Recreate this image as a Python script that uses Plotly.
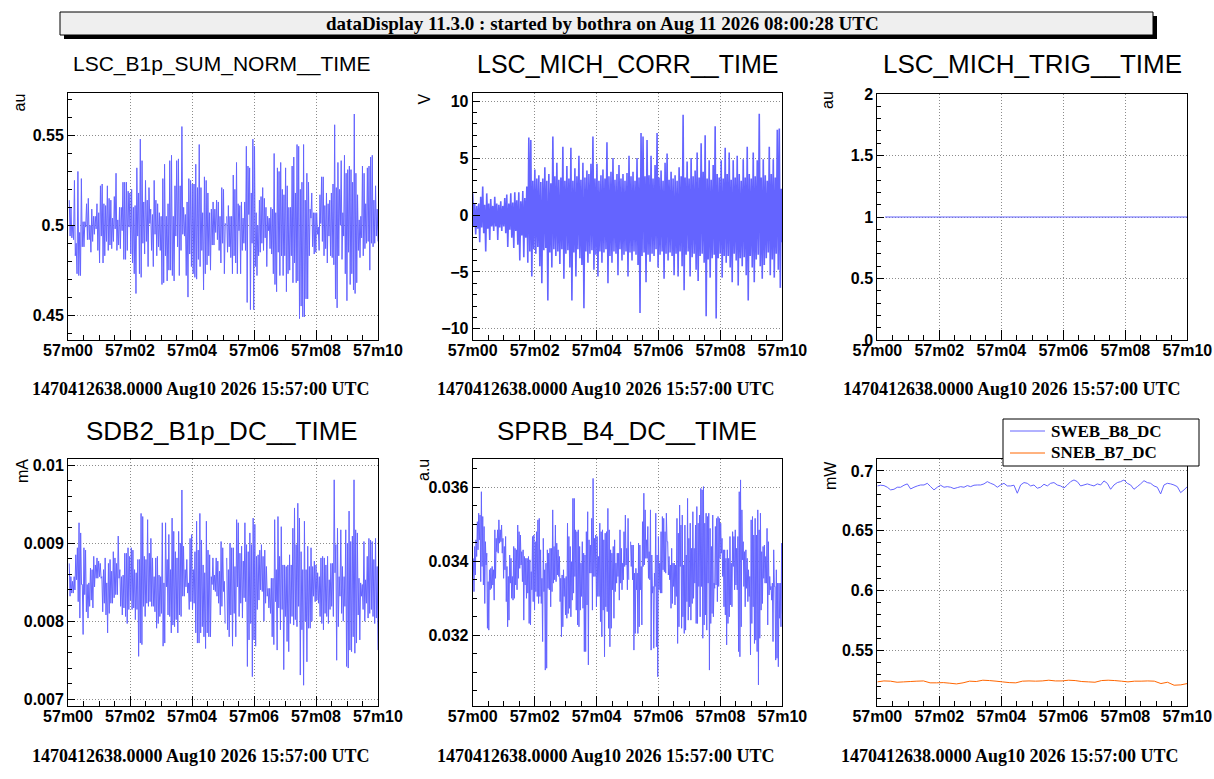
import numpy as np
import pandas as pd
import plotly.graph_objects as go

# start of the 10 s window shown in every panel
T0 = pd.Timestamp('2026-08-10 15:57:00')

# LSC_B1p_SUM_NORM, read as successive highs/lows (first half 0.04-5.10 s, second 5.12-10 s)
b1p_sum_a = [
    0.514, 0.494, 0.510, 0.493, 0.500, 0.492, 0.525, 0.483, 0.490, 0.473,
    0.530, 0.472, 0.496, 0.472, 0.526, 0.488, 0.502, 0.488, 0.502, 0.499,
    0.512, 0.492, 0.515, 0.492, 0.500, 0.485, 0.509, 0.491, 0.505, 0.495,
    0.505, 0.498, 0.512, 0.486, 0.507, 0.479, 0.522, 0.494, 0.523, 0.479,
    0.512, 0.483, 0.511, 0.491, 0.522, 0.486, 0.515, 0.489, 0.514, 0.487,
    0.504, 0.491, 0.516, 0.498, 0.529, 0.486, 0.503, 0.489, 0.510, 0.487,
    0.510, 0.497, 0.524, 0.481, 0.524, 0.481, 0.524, 0.486, 0.519, 0.499,
    0.518, 0.484, 0.520, 0.479, 0.510, 0.473, 0.511, 0.462, 0.532, 0.494,
    0.518, 0.473, 0.548, 0.471, 0.536, 0.490, 0.513, 0.484, 0.525, 0.491,
    0.514, 0.477, 0.521, 0.501, 0.509, 0.486, 0.506, 0.477, 0.525, 0.495,
    0.514, 0.483, 0.512, 0.488, 0.507, 0.486, 0.505, 0.467, 0.526, 0.468,
    0.534, 0.483, 0.505, 0.469, 0.512, 0.475, 0.536, 0.475, 0.539, 0.472,
    0.505, 0.469, 0.522, 0.494, 0.536, 0.488, 0.537, 0.472, 0.522, 0.486,
    0.555, 0.495, 0.510, 0.494, 0.506, 0.472, 0.513, 0.460, 0.526, 0.484,
    0.525, 0.477, 0.523, 0.473, 0.523, 0.471, 0.534, 0.470, 0.521, 0.481,
    0.545, 0.477, 0.521, 0.486, 0.507, 0.464, 0.527, 0.473, 0.525, 0.478,
    0.518, 0.483, 0.507, 0.475, 0.509, 0.489, 0.513, 0.489, 0.509, 0.496,
    0.514, 0.492, 0.513, 0.486, 0.505, 0.479, 0.521, 0.490, 0.520, 0.473,
    0.501, 0.500,
]
b1p_sum_b = [
    0.505, 0.485, 0.511, 0.488, 0.505, 0.482, 0.505, 0.473, 0.528, 0.483,
    0.520, 0.479, 0.535, 0.473, 0.512, 0.497, 0.511, 0.473, 0.513, 0.486,
    0.504, 0.490, 0.513, 0.486, 0.544, 0.457, 0.533, 0.506, 0.532, 0.453,
    0.518, 0.490, 0.548, 0.453, 0.544, 0.477, 0.507, 0.472, 0.500, 0.483,
    0.514, 0.485, 0.516, 0.490, 0.521, 0.486, 0.515, 0.493, 0.510, 0.477,
    0.505, 0.497, 0.504, 0.487, 0.510, 0.484, 0.509, 0.473, 0.540, 0.467,
    0.507, 0.463, 0.532, 0.485, 0.530, 0.472, 0.535, 0.483, 0.520, 0.472,
    0.517, 0.483, 0.532, 0.463, 0.522, 0.473, 0.510, 0.475, 0.510, 0.483,
    0.533, 0.468, 0.538, 0.479, 0.518, 0.468, 0.545, 0.469, 0.544, 0.448,
    0.520, 0.455, 0.524, 0.449, 0.545, 0.449, 0.514, 0.459, 0.529, 0.459,
    0.524, 0.483, 0.509, 0.504, 0.518, 0.488, 0.507, 0.484, 0.507, 0.485,
    0.507, 0.495, 0.499, 0.486, 0.517, 0.501, 0.527, 0.491, 0.527, 0.483,
    0.511, 0.487, 0.518, 0.479, 0.512, 0.494, 0.514, 0.483, 0.518, 0.482,
    0.523, 0.478, 0.556, 0.459, 0.521, 0.454, 0.535, 0.483, 0.520, 0.500,
    0.536, 0.481, 0.507, 0.494, 0.539, 0.473, 0.529, 0.458, 0.531, 0.485,
    0.533, 0.467, 0.531, 0.473, 0.524, 0.464, 0.562, 0.462, 0.529, 0.468,
    0.517, 0.486, 0.503, 0.482, 0.505, 0.493, 0.533, 0.483, 0.529, 0.487,
    0.512, 0.490, 0.532, 0.491, 0.533, 0.475, 0.538, 0.490, 0.539, 0.488,
    0.514, 0.490, 0.522, 0.494, 0.509, 0.491,
]

# LSC_MICH_CORR [V], highs/lows over 0-10 s
mich_corr = [
    1.9, -1.0, 1.0, -1.7, 0.8, -1.2, 1.0, -2.4, 1.6, -1.1, 2.5, -1.6, 0.9, -3.2, 1.9, -1.2,
    1.0, -2.2, 1.4, -1.0, 0.8, -1.4, 1.6, -1.0, 1.0, -2.2, 0.9, -1.1, 1.2, -1.4, 0.8, -1.0,
    1.5, -1.6, 1.8, -2.8, 1.0, -1.3, 1.9, -2.0, 1.1, -2.9, 2.0, -1.4, 1.3, -2.6, 2.0, -4.0,
    1.2, -1.8, 2.1, -3.7, 1.5, -2.0, 2.5, -4.2,
    6.8, -3.2, 6.6, -5.4, 3.0, -3.0, 4.0, -3.4, 3.2, -2.8, 3.5, -4.5, 2.9, -6.0, 3.2, -3.1,
    4.2, -2.9, 3.0, -7.5, 3.6, -3.3, 2.8, -4.6, 6.9, -3.0, 3.4, -3.6, 4.6, -3.2, 3.1, -4.3,
    3.3, -3.0, 6.0, -5.6, 3.0, -3.4, 4.3, -3.1, 3.2, -4.6, 5.9, -7.5, 3.0, -3.3, 4.1, -5.4,
    3.4, -3.0, 5.2, -3.8, 3.1, -4.4, 4.6, -8.2, 3.3, -3.2, 3.9, -4.2, 3.6, -3.4, 4.5, -3.1,
    6.9, -4.8, 3.2, -3.5, 4.5, -5.4, 3.0, -3.2, 3.5, -4.2, 4.0, -3.3, 3.2, -3.0, 6.4, -6.0,
    3.4, -3.6, 3.8, -4.2, 5.0, -3.2, 3.1, -3.4, 3.6, -5.3, 4.4, -3.0, 3.2, -4.0, 3.6, -3.5,
    3.0, -3.2, 3.7, -5.4, 5.2, -3.3, 3.4, -4.0, 3.8, -3.2, 3.0, -3.5, 5.0, -4.4, 3.3, -8.6,
    7.2, -3.6, 6.9, -3.3, 3.4, -5.9, 6.6, -3.5, 3.5, -4.1, 5.2, -3.4, 3.2, -3.6, 4.4, -3.0,
    7.2, -4.6, 3.3, -3.5, 3.9, -3.2, 3.0, -5.6, 4.6, -3.4, 5.4, -4.0, 3.1, -3.3, 3.8, -3.6,
    3.2, -5.3, 3.5, -3.4, 3.0, -5.4, 4.2, -3.2, 3.4, -4.5, 8.8, -6.6, 3.3, -3.5, 4.7, -3.2,
    3.2, -5.4, 5.0, -3.7, 3.4, -3.4, 3.9, -4.8, 5.5, -5.8, 3.3, -3.6, 6.3, -3.4, 3.8, -4.2,
    7.0, -8.9, 3.2, -3.9, 4.8, -5.5, 3.1, -3.8, 4.4, -3.5, 7.8, -9.1, 3.6, -3.8, 3.3, -3.4,
    4.8, -5.5, 3.2, -3.6, 5.9, -4.2, 3.6, -3.6, 5.5, -4.6, 3.1, -5.9, 4.8, -3.4, 3.3, -4.0,
    5.2, -6.2, 3.6, -3.8, 3.0, -4.5, 4.9, -3.7, 3.3, -5.3, 6.0, -7.5, 3.6, -3.6, 3.2, -4.6,
    5.5, -5.9, 3.4, -3.9, 4.8, -3.5, 8.9, -4.5, 3.3, -5.6, 4.9, -4.4, 3.5, -3.8, 3.0, -3.3,
    6.0, -5.3, 3.6, -3.9, 4.9, -5.5, 3.3, -3.4, 7.5, -4.8, 7.6, -6.4, 2.3, -2.4,
]

# LSC_MICH_TRIG [au], 0.25-10 s
mich_trig = [1.0, 1.0, 1.0, 1.0, 1.0, 1.0, 1.0, 1.0, 1.0, 1.0, 1.0]

# SDB2_B1p_DC [mA], highs/lows (first half 0.04-5.07 s, second 5.12-10 s)
sdb2_dc_a = [
    0.00874, 0.00832, 0.00857, 0.00836, 0.00851, 0.00836, 0.00857, 0.00840, 0.00885, 0.00853,
    0.00894, 0.00825, 0.00926, 0.00804, 0.00913, 0.00847, 0.00847, 0.00783, 0.00894, 0.00834,
    0.00891, 0.00812, 0.00847, 0.00804, 0.00849, 0.00819, 0.00868, 0.00827, 0.00866, 0.00817,
    0.00883, 0.00844, 0.00872, 0.00855, 0.00881, 0.00855, 0.00877, 0.00857, 0.00874, 0.00855,
    0.00857, 0.00812, 0.00866, 0.00823, 0.00881, 0.00808, 0.00849, 0.00785, 0.00874, 0.00810,
    0.00879, 0.00823, 0.00864, 0.00823, 0.00889, 0.00830, 0.00881, 0.00834, 0.00874, 0.00834,
    0.00909, 0.00855, 0.00866, 0.00819, 0.00857, 0.00808, 0.00859, 0.00817, 0.00887, 0.00806,
    0.00887, 0.00797, 0.00894, 0.00815, 0.00883, 0.00827, 0.00894, 0.00815, 0.00891, 0.00817,
    0.00866, 0.00802, 0.00862, 0.00815, 0.00879, 0.00755, 0.00879, 0.00772, 0.00938, 0.00770,
    0.00934, 0.00819, 0.00883, 0.00806, 0.00879, 0.00823, 0.00930, 0.00819, 0.00887, 0.00825,
    0.00906, 0.00819, 0.00881, 0.00819, 0.00857, 0.00812, 0.00881, 0.00791, 0.00883, 0.00797,
    0.00859, 0.00806, 0.00857, 0.00810, 0.00926, 0.00768, 0.00849, 0.00772, 0.00926, 0.00844,
    0.00879, 0.00808, 0.00911, 0.00806, 0.00866, 0.00785, 0.00932, 0.00795, 0.00915, 0.00793,
    0.00889, 0.00802, 0.00881, 0.00785, 0.00915, 0.00808, 0.00900, 0.00806, 0.00968, 0.00832,
    0.00896, 0.00832, 0.00866, 0.00844, 0.00879, 0.00836, 0.00849, 0.00815, 0.00906, 0.00825,
    0.00911, 0.00815, 0.00866, 0.00823, 0.00889, 0.00785, 0.00928, 0.00772, 0.00891, 0.00772,
    0.00938, 0.00785, 0.00904, 0.00793, 0.00872, 0.00780, 0.00862, 0.00765, 0.00928, 0.00785,
    0.00891, 0.00780, 0.00885, 0.00780, 0.00857, 0.00847, 0.00881, 0.00840, 0.00859, 0.00838,
    0.00881, 0.00832, 0.00877, 0.00823, 0.00864, 0.00808, 0.00902, 0.00819, 0.00894, 0.00838,
    0.00851, 0.00797,
]
sdb2_dc_b = [
    0.00881, 0.00789, 0.00866, 0.00780, 0.00900, 0.00808, 0.00894, 0.00768, 0.00894, 0.00810,
    0.00870, 0.00780, 0.00930, 0.00844, 0.00926, 0.00806, 0.00887, 0.00823, 0.00896, 0.00804,
    0.00877, 0.00830, 0.00926, 0.00825, 0.00898, 0.00742, 0.00889, 0.00776, 0.00913, 0.00797,
    0.00898, 0.00729, 0.00932, 0.00776, 0.00924, 0.00768, 0.00883, 0.00815, 0.00885, 0.00827,
    0.00891, 0.00840, 0.00898, 0.00838, 0.00883, 0.00800, 0.00891, 0.00823, 0.00870, 0.00832,
    0.00842, 0.00817, 0.00842, 0.00810, 0.00855, 0.00780, 0.00855, 0.00770, 0.00930, 0.00825,
    0.00866, 0.00763, 0.00934, 0.00817, 0.00883, 0.00789, 0.00921, 0.00815, 0.00872, 0.00738,
    0.00872, 0.00806, 0.00870, 0.00774, 0.00872, 0.00761, 0.00885, 0.00797, 0.00872, 0.00806,
    0.00919, 0.00795, 0.00945, 0.00802, 0.00898, 0.00793, 0.00951, 0.00819, 0.00932, 0.00731,
    0.00889, 0.00789, 0.00866, 0.00718, 0.00928, 0.00800, 0.00866, 0.00748, 0.00896, 0.00791,
    0.00870, 0.00791, 0.00894, 0.00800, 0.00870, 0.00832, 0.00877, 0.00825, 0.00872, 0.00827,
    0.00862, 0.00823, 0.00857, 0.00806, 0.00881, 0.00797, 0.00883, 0.00789, 0.00881, 0.00810,
    0.00872, 0.00806, 0.00883, 0.00797, 0.00853, 0.00815, 0.00874, 0.00819, 0.00874, 0.00806,
    0.00981, 0.00862, 0.00898, 0.00750, 0.00919, 0.00793, 0.00857, 0.00832, 0.00917, 0.00810,
    0.00870, 0.00800, 0.00857, 0.00819, 0.00917, 0.00742, 0.00900, 0.00740, 0.00941, 0.00763,
    0.00902, 0.00761, 0.00909, 0.00780, 0.00981, 0.00759, 0.00917, 0.00772, 0.00913, 0.00808,
    0.00855, 0.00776, 0.00849, 0.00832, 0.00847, 0.00815, 0.00902, 0.00800, 0.00853, 0.00823,
    0.00883, 0.00804, 0.00906, 0.00810, 0.00904, 0.00815, 0.00902, 0.00806, 0.00879, 0.00797,
    0.00906, 0.00804, 0.00870, 0.00763,
]

# SPRB_B4_DC [a.u], highs/lows (first half 0.02-5.04 s, second 5.10-10 s)
sprb_dc_a = [
    0.03408, 0.03318, 0.03440, 0.03363, 0.03458, 0.03413, 0.03507, 0.03431, 0.03530, 0.03458,
    0.03525, 0.03345, 0.03588, 0.03386, 0.03521, 0.03336, 0.03494, 0.03286, 0.03453, 0.03390,
    0.03422, 0.03219, 0.03345, 0.03214, 0.03377, 0.03323, 0.03381, 0.03327, 0.03386, 0.03336,
    0.03377, 0.03295, 0.03485, 0.03354, 0.03462, 0.03426, 0.03485, 0.03422, 0.03512, 0.03449,
    0.03485, 0.03453, 0.03498, 0.03422, 0.03462, 0.03354, 0.03440, 0.03377, 0.03467, 0.03291,
    0.03386, 0.03223, 0.03359, 0.03241, 0.03417, 0.03341, 0.03408, 0.03300, 0.03359, 0.03295,
    0.03440, 0.03300, 0.03435, 0.03336, 0.03431, 0.03323, 0.03498, 0.03354, 0.03480, 0.03381,
    0.03471, 0.03390, 0.03426, 0.03345, 0.03431, 0.03241, 0.03413, 0.03336, 0.03408, 0.03300,
    0.03408, 0.03314, 0.03413, 0.03232, 0.03404, 0.03228, 0.03372, 0.03323, 0.03467, 0.03291,
    0.03471, 0.03268, 0.03453, 0.03318, 0.03480, 0.03305, 0.03512, 0.03286, 0.03516, 0.03305,
    0.03431, 0.03286, 0.03354, 0.03183, 0.03462, 0.03318, 0.03377, 0.03106, 0.03395, 0.03111,
    0.03431, 0.03327, 0.03422, 0.03323, 0.03435, 0.03277, 0.03435, 0.03318, 0.03539, 0.03341,
    0.03440, 0.03350, 0.03498, 0.03345, 0.03449, 0.03363, 0.03431, 0.03359, 0.03413, 0.03291,
    0.03354, 0.03196, 0.03363, 0.03223, 0.03377, 0.03305, 0.03354, 0.03255, 0.03359, 0.03246,
    0.03503, 0.03259, 0.03467, 0.03273, 0.03440, 0.03250, 0.03399, 0.03295, 0.03570, 0.03314,
    0.03570, 0.03359, 0.03485, 0.03268, 0.03480, 0.03228, 0.03485, 0.03223, 0.03440, 0.03268,
    0.03395, 0.03305, 0.03453, 0.03273, 0.03422, 0.03156, 0.03417, 0.03156, 0.03480, 0.03282,
    0.03534, 0.03120, 0.03458, 0.03368, 0.03444, 0.03368, 0.03516, 0.03268, 0.03624, 0.03359,
    0.03462, 0.03359, 0.03471, 0.03277, 0.03467, 0.03305, 0.03413, 0.03305, 0.03503, 0.03237,
    0.03480, 0.03196, 0.03485, 0.03268, 0.03458, 0.03142, 0.03476, 0.03277, 0.03480, 0.03264,
    0.03543, 0.03219, 0.03485, 0.03169, 0.03431, 0.03219, 0.03422, 0.03323, 0.03440, 0.03246,
    0.03458, 0.03318, 0.03395, 0.03341, 0.03422, 0.03359, 0.03422, 0.03295, 0.03485, 0.03341,
    0.03435, 0.03323, 0.03395, 0.03350, 0.03480, 0.03386, 0.03525, 0.03390, 0.03435, 0.03323,
    0.03516, 0.03350,
]
sprb_dc_b = [
    0.03453, 0.03386, 0.03444, 0.03350, 0.03444, 0.03160, 0.03368, 0.03205, 0.03381, 0.03323,
    0.03368, 0.03205, 0.03449, 0.03223, 0.03444, 0.03323, 0.03386, 0.03228, 0.03507, 0.03386,
    0.03584, 0.03390, 0.03539, 0.03408, 0.03458, 0.03408, 0.03494, 0.03354, 0.03426, 0.03350,
    0.03539, 0.03160, 0.03417, 0.03314, 0.03332, 0.03165, 0.03368, 0.03332, 0.03530, 0.03169,
    0.03417, 0.03088, 0.03467, 0.03323, 0.03395, 0.03314, 0.03480, 0.03314, 0.03521, 0.03377,
    0.03516, 0.03372, 0.03480, 0.03368, 0.03530, 0.03453, 0.03453, 0.03363, 0.03413, 0.03350,
    0.03390, 0.03273, 0.03435, 0.03286, 0.03395, 0.03332, 0.03395, 0.03282, 0.03390, 0.03305,
    0.03516, 0.03178, 0.03476, 0.03223, 0.03552, 0.03386, 0.03498, 0.03219, 0.03525, 0.03250,
    0.03390, 0.03205, 0.03498, 0.03214, 0.03417, 0.03291, 0.03570, 0.03241, 0.03462, 0.03277,
    0.03503, 0.03241, 0.03435, 0.03286, 0.03534, 0.03300, 0.03435, 0.03341, 0.03498, 0.03232,
    0.03548, 0.03232, 0.03503, 0.03332, 0.03525, 0.03250, 0.03597, 0.03332, 0.03593, 0.03192,
    0.03602, 0.03228, 0.03503, 0.03255, 0.03530, 0.03214, 0.03521, 0.03341, 0.03530, 0.03106,
    0.03489, 0.03232, 0.03440, 0.03259, 0.03525, 0.03250, 0.03341, 0.03327, 0.03494, 0.03336,
    0.03516, 0.03291, 0.03521, 0.03332, 0.03516, 0.03408, 0.03503, 0.03422, 0.03462, 0.03359,
    0.03431, 0.03277, 0.03431, 0.03255, 0.03408, 0.03174, 0.03431, 0.03232, 0.03408, 0.03250,
    0.03467, 0.03282, 0.03395, 0.03277, 0.03480, 0.03386, 0.03467, 0.03323, 0.03485, 0.03336,
    0.03435, 0.03323, 0.03467, 0.03156, 0.03588, 0.03142, 0.03620, 0.03223, 0.03539, 0.03404,
    0.03453, 0.03332, 0.03426, 0.03277, 0.03431, 0.03327, 0.03408, 0.03291, 0.03377, 0.03305,
    0.03359, 0.03147, 0.03512, 0.03232, 0.03521, 0.03277, 0.03471, 0.03178, 0.03516, 0.03187,
    0.03471, 0.03156, 0.03539, 0.03066, 0.03485, 0.03192, 0.03530, 0.03268, 0.03426, 0.03286,
    0.03440, 0.03354, 0.03444, 0.03341, 0.03413, 0.03341, 0.03489, 0.03228, 0.03453, 0.03309,
    0.03359, 0.03323, 0.03332, 0.03295, 0.03341, 0.03183, 0.03431, 0.03332, 0.03332, 0.03133,
    0.03377, 0.03138, 0.03341, 0.03115, 0.03341, 0.03246, 0.03341, 0.03223, 0.03449, 0.03259,
]

# SWEB_B8_DC / SNEB_B7_DC [mW], 0-10 s
sweb_b8 = [
    0.6875, 0.6881, 0.6878, 0.6864, 0.6842, 0.6847, 0.6864, 0.6864, 0.6881, 0.6892,
    0.6850, 0.6864, 0.6875, 0.6883, 0.6883, 0.6897, 0.6869, 0.6842, 0.6864, 0.6881,
    0.6864, 0.6869, 0.6864, 0.6853, 0.6861, 0.6869, 0.6864, 0.6878, 0.6869, 0.6881,
    0.6883, 0.6883, 0.6892, 0.6911, 0.6897, 0.6886, 0.6864, 0.6883, 0.6897, 0.6875,
    0.6875, 0.6881, 0.6814, 0.6883, 0.6903, 0.6897, 0.6875, 0.6883, 0.6856, 0.6864,
    0.6889, 0.6875, 0.6897, 0.6903, 0.6883, 0.6875, 0.6858, 0.6883, 0.6911, 0.6925,
    0.6911, 0.6875, 0.6883, 0.6892, 0.6883, 0.6875, 0.6892, 0.6883, 0.6917, 0.6897,
    0.6847, 0.6883, 0.6903, 0.6911, 0.6925, 0.6897, 0.6883, 0.6847, 0.6869, 0.6892,
    0.6919, 0.6903, 0.6897, 0.6875, 0.6864, 0.6808, 0.6883, 0.6897, 0.6892, 0.6883,
    0.6869, 0.6819, 0.6842, 0.6869,
]
sneb_b7 = [
    0.5236, 0.5244, 0.5242, 0.5233, 0.5236, 0.5239, 0.5242, 0.5244, 0.5228, 0.5228,
    0.5230, 0.5225, 0.5219, 0.5228, 0.5242, 0.5239, 0.5250, 0.5247, 0.5242, 0.5236,
    0.5230, 0.5228, 0.5242, 0.5244, 0.5242, 0.5244, 0.5250, 0.5244, 0.5244, 0.5250,
    0.5247, 0.5239, 0.5236, 0.5233, 0.5247, 0.5250, 0.5247, 0.5242, 0.5236, 0.5242,
    0.5242, 0.5244, 0.5242, 0.5222, 0.5233, 0.5208, 0.5211, 0.5222,
]

BLUE = '#6464ff'
ORANGE = '#ff6600'
SANS = 'Liberation Sans'
SERIF = 'Liberation Serif'
W, H = 1214, 779


def stamps(n, t0, t1):
    return T0 + pd.to_timedelta(np.linspace(t0, t1, n), unit='s')


def line(vals, t0, t1, ax, color=BLUE, width=1):
    # simplify off, otherwise plotly merges the dense up/down swings
    return go.Scatter(x=stamps(len(vals), t0, t1), y=vals, mode='lines',
                      line=dict(color=color, width=width, simplify=False),
                      xaxis='x' + ax, yaxis='y' + ax, hoverinfo='skip', showlegend=False)


fig = go.Figure()
fig.add_trace(line(b1p_sum_a, 0.04, 5.10, '1'))
fig.add_trace(line(b1p_sum_b, 5.12, 10.0, '1'))
fig.add_trace(line(mich_corr, 0.0, 10.0, '2', width=1.6))
fig.add_trace(line(mich_trig, 0.25, 10.0, '3'))
fig.add_trace(line(sdb2_dc_a, 0.04, 5.07, '4'))
fig.add_trace(line(sdb2_dc_b, 5.12, 10.0, '4'))
fig.add_trace(line(sprb_dc_a, 0.02, 5.04, '5'))
fig.add_trace(line(sprb_dc_b, 5.10, 10.0, '5'))
fig.add_trace(line(sneb_b7, 0.0, 10.0, '6', ORANGE))
fig.add_trace(line(sweb_b8, 0.0, 10.0, '6'))

# pad frames in pixels (left, right, top, bottom), y range, major / minor step
panels = [
    ((68, 378, 93, 340), [0.4361, 0.5737], 0.05, 0.01),
    ((472.7, 782.3, 93, 340), [-10.98, 10.72], 5, 1),
    ((877.3, 1187.3, 94, 340), [0, 2], 0.5, 0.1),
    ((68, 378, 459.3, 706), [0.006914, 0.010073], 0.001, 0.0002),
    ((472.7, 782.3, 459.3, 706), [0.030089, 0.036757], 0.002, 0.0005),
    ((877.3, 1187.3, 459.3, 706), [0.50343, 0.70978], 0.05, 0.01),
]

tickfont = dict(family=SANS, size=16, color='black', weight='bold')
common = dict(showgrid=True, gridcolor='#8c8c8c', griddash='1px,2px', gridwidth=1,
              showline=True, linecolor='black', linewidth=1, mirror=True,
              zeroline=False, ticks='inside', tickcolor='black', tickwidth=1,
              tickfont=tickfont, fixedrange=True, automargin=False)

axes = {}
for i, ((l, r, t, b), yr, dt, mdt) in enumerate(panels, start=1):
    n = '' if i == 1 else str(i)
    axes['xaxis' + n] = dict(
        common, domain=[l / W, r / W], anchor='y' + str(i), type='date',
        range=[T0, T0 + pd.Timedelta(seconds=10)], tickformat='%Mm%S',
        tick0=T0, dtick=2000, ticklen=10, ticklabelstandoff=-4,
        minor=dict(tick0=T0, dtick=500, ticks='inside', ticklen=5,
                   tickcolor='black', showgrid=False))
    axes['yaxis' + n] = dict(
        common, domain=[1 - b / H, 1 - t / H], anchor='x' + str(i), range=yr,
        tick0=0, dtick=dt, ticklen=7,
        minor=dict(tick0=0, dtick=mdt, ticks='inside', ticklen=4,
                   tickcolor='black', showgrid=False))
fig.update_layout(**axes)


def note(text, x, y, size, family=SANS, weight='normal', xanchor='center',
         yanchor='middle', angle=0):
    return dict(text=text, x=x / W, y=1 - y / H, xref='paper', yref='paper',
                showarrow=False, xanchor=xanchor, yanchor=yanchor, textangle=angle,
                font=dict(family=family, size=size, color='black', weight=weight))


def rect(x0, y0, x1, y1, fill, border=None):
    return dict(type='rect', xref='paper', yref='paper', layer='above',
                x0=x0 / W, x1=x1 / W, y0=1 - y1 / H, y1=1 - y0 / H, fillcolor=fill,
                line=dict(color=border or fill, width=1 if border else 0))


stamp = '1470412638.0000 Aug10 2026 15:57:00 UTC'
notes = [
    note('dataDisplay 11.3.0 : started by bothra on Aug 11 2026 08:00:28 UTC',
         602, 24, 19, SERIF, 'bold'),
    note('LSC_B1p_SUM_NORM__TIME', 222, 64, 21),
    note('LSC_MICH_CORR__TIME', 627, 64, 25),
    note('LSC_MICH_TRIG__TIME', 1032, 64, 26),
    note('SDB2_B1p_DC__TIME', 222, 431, 26),
    note('SPRB_B4_DC__TIME', 627, 431, 26),
    note('au', 19.5, 92, 16, yanchor='top', angle=-90),
    note('V', 424, 92, 16, yanchor='top', angle=-90),
    note('au', 828, 89, 16, yanchor='top', angle=-90),
    note('mA', 22, 457, 16, yanchor='top', angle=-90),
    note('a.u', 423, 457, 16, yanchor='top', angle=-90),
    note('mW', 830.5, 459, 16, yanchor='top', angle=-90),
    note('SWEB_B8_DC', 1049, 431, 17, SERIF, 'bold', xanchor='left'),
    note('SNEB_B7_DC', 1049, 453, 17, SERIF, 'bold', xanchor='left'),
]
for x, y in [(201, 389), (606, 389), (1012, 389), (201, 756), (606, 756), (1010, 756)]:
    notes.append(note(stamp, x, y, 18, SERIF, 'bold'))

shapes = [
    rect(64, 16, 1157, 39, 'black'),
    rect(60, 12, 1153, 35, '#efefef', 'black'),
    rect(1003, 419, 1199, 466, 'white', 'black'),
    dict(type='line', xref='paper', yref='paper', layer='above',
         x0=1010 / W, x1=1045 / W, y0=1 - 431 / H, y1=1 - 431 / H,
         line=dict(color=BLUE, width=1)),
    dict(type='line', xref='paper', yref='paper', layer='above',
         x0=1010 / W, x1=1045 / W, y0=1 - 453 / H, y1=1 - 453 / H,
         line=dict(color=ORANGE, width=1)),
]

fig.update_layout(width=W, height=H,
                  margin=dict(l=0, r=0, t=0, b=0, pad=0, autoexpand=False),
                  paper_bgcolor='white', plot_bgcolor='white', showlegend=False,
                  hovermode=False, annotations=notes, shapes=shapes)

fig.write_html("out.html", config={'displayModeBar': False},
               post_script="document.body.style.margin='0';")
